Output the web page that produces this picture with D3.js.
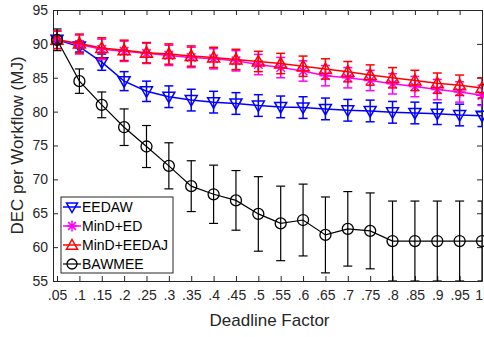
<!DOCTYPE html>
<html>
<head>
<meta charset="utf-8">
<script src="https://cdn.jsdelivr.net/npm/d3@7"></script>
<style>
  body { margin: 0; background: #fff; }
  text { font-family: "Liberation Sans", Arial, sans-serif; }
</style>
</head>
<body>
<div class="chart"></div>
<script>
// Data
var factors = [0.05, 0.1, 0.15, 0.2, 0.25, 0.3, 0.35, 0.4, 0.45, 0.5, 0.55, 0.6, 0.65, 0.7, 0.75, 0.8, 0.85, 0.9, 0.95, 1];
var tickLabels = [".05", ".1", ".15", ".2", ".25", ".3", ".35", ".4", ".45", ".5", ".55", ".6", ".65", ".7", ".75", ".8", ".85", ".9", ".95", "1"];
var seriesNames = ["EEDAW", "MinD+ED", "MinD+EEDAJ", "BAWMEE"];

var eedaw = [90.6, 89.6, 87.3, 84.5, 83.0, 82.2, 81.7, 81.4, 81.2, 80.9, 80.7, 80.6, 80.4, 80.2, 80.1, 79.9, 79.8, 79.7, 79.5, 79.4];
var eedawErr = [0.5, 0.8, 1.2, 1.4, 1.5, 1.6, 1.6, 1.6, 1.6, 1.6, 1.6, 1.6, 1.6, 1.6, 1.6, 1.6, 1.6, 1.6, 1.6, 1.6];

var mindEd = [90.6, 89.9, 89.2, 88.9, 88.6, 88.3, 88.0, 87.8, 87.5, 86.95, 86.5, 86.0, 85.3, 85.0, 84.6, 84.1, 83.7, 83.25, 82.9, 82.4];
var mindEdErr = [1.3, 1.4, 1.5, 1.5, 1.5, 1.5, 1.5, 1.5, 1.5, 1.5, 1.5, 1.5, 1.5, 1.5, 1.5, 1.5, 1.5, 1.5, 1.5, 1.5];

var mindEedaj = [90.6, 90.05, 89.4, 89.05, 88.7, 88.5, 88.2, 88.0, 87.7, 87.4, 87.1, 86.7, 86.3, 85.9, 85.4, 85.0, 84.6, 84.2, 83.9, 83.5];
var mindEedajErr = [1.3, 1.4, 1.5, 1.5, 1.5, 1.5, 1.5, 1.5, 1.5, 1.5, 1.5, 1.5, 1.5, 1.5, 1.5, 1.5, 1.5, 1.5, 1.5, 1.5];

var bawmee = [90.6, 84.5, 81.0, 77.7, 74.85, 72.0, 69.0, 67.8, 66.9, 64.9, 63.5, 64.0, 61.8, 62.7, 62.4, 60.9, 60.9, 60.9, 60.9, 60.9];
var bawmeeErr = [1.6, 1.8, 1.9, 2.7, 3.1, 3.4, 3.75, 4.3, 4.4, 5.5, 5.5, 5.3, 5.6, 5.5, 5.6, 5.9, 5.9, 5.9, 5.9, 5.9];

var yTicks = [55, 60, 65, 70, 75, 80, 85, 90, 95];

var svgWidth = 484;
var svgHeight = 337;
var margin = {top: 10, right: 2, bottom: 56, left: 53};
var width = svgWidth - margin.left - margin.right;
var height = svgHeight - margin.top - margin.bottom;

var svg = d3.select(".chart")
    .append("svg")
    .attr("width", svgWidth)
    .attr("height", svgHeight);

var chartGroup = svg.append("g")
    .attr("transform", "translate(" + margin.left + "," + margin.top + ")");

var xScale = d3.scaleLinear().domain([0.041, 1]).range([0, width]);
var yScale = d3.scaleLinear().domain([55, 95]).range([height, 0]);

var axisColor = "#262626";

// clip for error bars running below the axis
svg.append("defs").append("clipPath").attr("id", "plotClip")
    .append("rect").attr("x", 0).attr("y", 0).attr("width", width).attr("height", height);

// Axes (ticks inside, MATLAB style)
var bottomAxis = d3.axisBottom(xScale).tickValues(factors)
    .tickFormat((d, i) => tickLabels[i]).tickSizeInner(-5).tickSizeOuter(0).tickPadding(9);
var leftAxis = d3.axisLeft(yScale).tickValues(yTicks).tickSizeInner(-5).tickSizeOuter(0).tickPadding(5);
var topAxis = d3.axisTop(xScale).tickValues(factors).tickFormat("").tickSizeInner(-5).tickSizeOuter(0);
var rightAxis = d3.axisRight(yScale).tickValues(yTicks).tickFormat("").tickSizeInner(-5).tickSizeOuter(0);

var gx = chartGroup.append("g").attr("transform", `translate(0, ${height})`).call(bottomAxis);
var gy = chartGroup.append("g").call(leftAxis);
var gt = chartGroup.append("g").call(topAxis);
var gr = chartGroup.append("g").attr("transform", `translate(${width}, 0)`).call(rightAxis);

[gx, gy, gt, gr].forEach(function(g) {
    g.selectAll("path").attr("stroke", axisColor).attr("stroke-width", 1);
    g.selectAll("line").attr("stroke", axisColor).attr("stroke-width", 1);
    g.selectAll("text").attr("fill", axisColor).style("font-size", "14px")
        .style("font-family", "Liberation Sans, Arial, sans-serif");
});
gx.selectAll("text").attr("dy", "0.71em");
// last label sits right at the window edge
gx.selectAll("text").filter((d, i) => i === factors.length - 1).attr("text-anchor", "end").attr("dx", "0.5");

// Series
var series = [
    {name: seriesNames[0], values: eedaw, err: eedawErr, color: "#0000ff", marker: "tdown", lw: 1.5},
    {name: seriesNames[1], values: mindEd, err: mindEdErr, color: "#ff00ff", marker: "star", lw: 1.5},
    {name: seriesNames[2], values: mindEedaj, err: mindEedajErr, color: "#ff0000", marker: "tup", lw: 1.5},
    {name: seriesNames[3], values: bawmee, err: bawmeeErr, color: "#000000", marker: "circle", lw: 1.2}
];

function drawMarker(g, type, x, y, color, size) {
    var s = size;
    if (type === "circle") {
        g.append("circle").attr("cx", x).attr("cy", y).attr("r", s)
            .attr("fill", "none").attr("stroke", color).attr("stroke-width", 1.3);
    } else if (type === "tdown") {
        g.append("path").attr("d", `M${x - s},${y - s * 0.75}L${x + s},${y - s * 0.75}L${x},${y + s}Z`)
            .attr("fill", "none").attr("stroke", color).attr("stroke-width", 1.5);
    } else if (type === "tup") {
        g.append("path").attr("d", `M${x - s},${y + s * 0.75}L${x + s},${y + s * 0.75}L${x},${y - s}Z`)
            .attr("fill", "none").attr("stroke", color).attr("stroke-width", 1.5);
    } else if (type === "star") {
        var p = "";
        [0, 45, 90, 135].forEach(function(a) {
            var r = a * Math.PI / 180;
            var dx = Math.cos(r) * s, dy = Math.sin(r) * s;
            p += `M${x - dx},${y - dy}L${x + dx},${y + dy}`;
        });
        g.append("path").attr("d", p).attr("stroke", color).attr("stroke-width", 1.5);
    }
}

var line = d3.line().x((d, i) => xScale(factors[i])).y(d => yScale(d));

series.forEach(function(s) {
    var g = chartGroup.append("g");
    var eb = g.append("g").attr("clip-path", "url(#plotClip)");
    s.values.forEach(function(v, i) {
        var x = xScale(factors[i]);
        var y1 = yScale(v + s.err[i]), y2 = yScale(v - s.err[i]);
        eb.append("line").attr("x1", x).attr("x2", x).attr("y1", y1).attr("y2", y2)
            .attr("stroke", s.color).attr("stroke-width", s.lw);
        [y1, y2].forEach(function(yy) {
            eb.append("line").attr("x1", x - 4.5).attr("x2", x + 4.5).attr("y1", yy).attr("y2", yy)
                .attr("stroke", s.color).attr("stroke-width", s.lw);
        });
    });
    g.append("path").datum(s.values).attr("d", line)
        .attr("fill", "none").attr("stroke", s.color).attr("stroke-width", s.lw);
    s.values.forEach(function(v, i) {
        drawMarker(g, s.marker, xScale(factors[i]), yScale(v), s.color, s.marker === "circle" ? 5.5 : 6);
    });
});

// Legend
var legend = chartGroup.append("g").attr("transform", "translate(8, 187)");
legend.append("rect").attr("x", 0).attr("y", 0).attr("width", 112).attr("height", 76)
    .attr("fill", "#fff").attr("stroke", axisColor).attr("stroke-width", 1);
series.forEach(function(s, i) {
    var yy = 10 + i * 19;
    legend.append("line").attr("x1", 2).attr("x2", 20).attr("y1", yy).attr("y2", yy)
        .attr("stroke", s.color).attr("stroke-width", s.lw);
    drawMarker(legend, s.marker, 11, yy, s.color, s.marker === "circle" ? 5 : 5.5);
    legend.append("text").attr("x", 21).attr("y", yy).attr("dy", "0.35em")
        .style("font-size", "14px").attr("fill", "#000").text(s.name);
});

// Axis labels
chartGroup.append("text")
    .attr("transform", "rotate(-90)")
    .attr("y", 0 - margin.left + 17)
    .attr("x", 0 - (height / 2))
    .attr("text-anchor", "middle")
    .attr("dy", "0.35em")
    .style("font-size", "17px")
    .attr("fill", axisColor)
    .text("DEC per Workflow (MJ)");

chartGroup.append("text")
    .attr("transform", `translate(${(xScale(0.05) + xScale(1)) / 2}, ${height + 45})`)
    .attr("text-anchor", "middle")
    .style("font-size", "17px")
    .attr("fill", axisColor)
    .text("Deadline Factor");
</script>
</body>
</html>
